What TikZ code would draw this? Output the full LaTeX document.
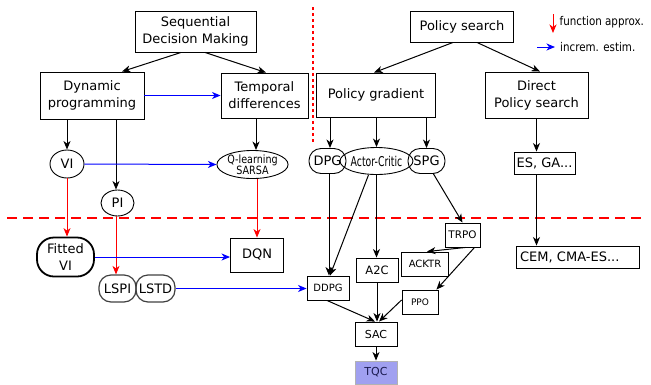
\documentclass[tikz,border=0pt]{standalone}
\usepackage{fontspec}
\usepackage{graphicx}
\setmainfont{DejaVu Sans}
\usetikzlibrary{arrows.meta,shapes.geometric}
\definecolor{tqcfill}{HTML}{A0A0F0}
\definecolor{tqctext}{HTML}{1A1A50}
\begin{document}
\begin{tikzpicture}[x=1pt,y=-1pt,
  big/.style={font=\fontsize{13}{17}\selectfont},
  small/.style={font=\fontsize{10}{12}\selectfont},
  box/.style={draw, line width=0.9pt, inner sep=0pt, align=center},
  ell/.style={ellipse, draw, line width=0.9pt, inner sep=0pt, align=center},
  capsule/.style={draw, line width=0.9pt, inner sep=0pt, align=center, rounded corners=12pt},
  arr/.style={-{Stealth[length=8.5pt,width=7pt,inset=2.5pt]}, line width=1pt},
  farr/.style={arr, red},
  iarr/.style={arr, blue},
  legtext/.style={anchor=west, inner sep=0pt, font=\fontsize{12}{13}\selectfont},
]
\useasboundingbox (0,0) rectangle (651,384);

% separators
\coordinate (h1) at (7,218);
\coordinate (h2) at (641,218);
\coordinate (v1) at (313,7);
\coordinate (v2) at (313,143);
\draw[red, line width=2.6pt, dash pattern=on 10pt off 6pt] (h1) -- (h2);
\draw[red, line width=1.2pt, dash pattern=on 3pt off 3pt] (v1) -- (v2);

% left part
\node[box,big,minimum width=121pt,minimum height=41pt] (sdm) at (195.5,31.5) {Sequential\\Decision Making};
\node[box,big,minimum width=104pt,minimum height=47pt] (dp) at (92,95.5) {Dynamic\\programming};
\node[box,big,minimum width=87pt,minimum height=45pt] (td) at (264.5,95.5) {Temporal\\differences};
\node[ell,big,minimum width=34pt,minimum height=28pt] (vi) at (67,164) {VI};
\node[ell,minimum width=61pt,minimum height=26pt,font=\fontsize{11.4}{11}\selectfont] (ql) at (252.5,164.5) {\scalebox{0.84}[1]{Q-learning}\\\scalebox{0.84}[1]{SARSA}};
\node[ell,big,minimum width=33pt,minimum height=26pt] (pi) at (117.5,203) {PI};
\node[capsule,big,line width=1.8pt,rounded corners=17pt,minimum width=57pt,minimum height=39pt] (fvi) at (65.5,257) {Fitted\\VI};
\node[box,big,minimum width=53pt,minimum height=34pt] (dqn) at (257,255) {DQN};
\node[capsule,big,draw=black!75,line width=1.2pt,minimum width=37pt,minimum height=27pt] (lspi) at (117.5,288.5) {LSPI};
\node[capsule,big,draw=black!75,line width=1.2pt,minimum width=39pt,minimum height=27pt] (lstd) at (155.5,288.5) {LSTD};

% right part
\node[box,big,minimum width=103pt,minimum height=31pt] (ps) at (462,26.5) {Policy search};
\node[box,big,minimum width=119pt,minimum height=44pt] (pg) at (376,95) {Policy gradient};
\node[box,big,minimum width=103pt,minimum height=46pt] (dps) at (536.5,95) {Direct\\Policy search};
\node[capsule,big,minimum width=37pt,minimum height=25pt] (dpg) at (327.5,161) {DPG};
\node[ell,minimum width=55pt,minimum height=27pt,font=\fontsize{13.5}{14}\selectfont] (ac) at (376.5,161) {\scalebox{0.69}[1]{Actor-Critic}};
\node[capsule,big,minimum width=37pt,minimum height=25pt] (spg) at (426.5,161) {SPG};
\node[box,big,minimum width=61pt,minimum height=22pt] (es) at (544.5,163) {ES, GA...};
\node[box,small,minimum width=42pt,minimum height=24pt] (ddpg) at (328,288) {DDPG};
\node[box,font=\fontsize{10.4}{12}\selectfont,minimum width=35pt,minimum height=24pt] (trpo) at (462.5,235) {TRPO};
\node[box,small,minimum width=47pt,minimum height=24pt] (acktr) at (425,264) {ACKTR};
\node[box,font=\fontsize{11.5}{12}\selectfont,minimum width=42pt,minimum height=24pt] (a2c) at (377,270) {A2C};
\node[box,font=\fontsize{9}{11}\selectfont,minimum width=36pt,minimum height=24pt] (ppo) at (420,302) {PPO};
\node[box,font=\fontsize{11}{12}\selectfont,minimum width=42pt,minimum height=24pt] (sac) at (376,334) {SAC};
\node[draw=black!30,fill=tqcfill,text=tqctext,line width=0.9pt,inner sep=0pt,font=\fontsize{11}{12}\selectfont,minimum width=42pt,minimum height=23pt] (tqc) at (376,372.5) {TQC};
\node[box,big,minimum width=123pt,minimum height=22pt,text width=115pt,align=left] (cem) at (577.5,257) {CEM, CMA-ES...};

% legend
\coordinate (l1a) at (553,14);
\coordinate (l1b) at (553,33);
\coordinate (l2a) at (537,47);
\coordinate (l2b) at (555,47);
\draw[farr] (l1a) -- (l1b);
\draw[iarr] (l2a) -- (l2b);
\node[legtext] (lt1) at (559.5,22) {\scalebox{0.86}[1]{function approx.}};
\node[legtext] (lt2) at (560,47) {\scalebox{0.86}[1]{increm. estim.}};

% black edges
\draw[arr] ([xshift=-14.5pt]sdm.south) -- ([xshift=30pt]dp.north);
\draw[arr] ([xshift=9.5pt]sdm.south) -- ([xshift=1.5pt]td.north);
\draw[arr] (dp.south -| vi.north) -- (vi.north);
\draw[arr] ([xshift=-1.5pt]dp.south -| pi.north) -- ([xshift=-1.5pt]pi.north);
\draw[arr] ([xshift=-8.5pt]td.south) -- ([xshift=3.5pt]ql.north);
\draw[arr] ([xshift=-9pt]ps.south) -- ([xshift=-2pt]pg.north);
\draw[arr] ([xshift=15pt]ps.south) -- ([xshift=3.5pt]dps.north);
\draw[arr] ([xshift=2.5pt]dpg.north |- pg.south) -- ([xshift=2.5pt]dpg.north);
\draw[arr] (ac.north |- pg.south) -- (ac.north);
\draw[arr] (spg.north |- pg.south) -- (spg.north);
\draw[arr] (dps.south) -- (dps.south |- es.north);
\draw[arr] (dps.south |- es.south) -- (dps.south |- cem.north);
\draw[arr] ([xshift=1.5pt]dpg.south) -- ([xshift=1.5pt]dpg.south |- ddpg.north);
\draw[arr] ([xshift=-8pt]ac.south) -- ([xshift=2pt]ddpg.north);
\draw[arr] (ac.south) -- (ac.south |- a2c.north);
\draw[arr] ([xshift=7pt]spg.south) -- (trpo.north);
\draw[arr] ([xshift=3pt]trpo.south) -- ([xshift=2pt]acktr.north);
\draw[arr] ([xshift=12pt]trpo.south) -- ([xshift=-2pt]ppo.north east);
\draw[arr] ([xshift=-1pt]ddpg.south) -- ([xshift=-1pt]sac.north);
\draw[arr] (a2c.south) -- (a2c.south |- sac.north);
\draw[arr] ([yshift=2pt]ppo.west) -- ([xshift=3pt]sac.north);
\draw[arr] (sac.south) -- (tqc.north);

% function approximation (red)
\draw[farr] (vi.south) -- (vi.south |- fvi.north);
\draw[farr] ([xshift=-1.5pt]pi.south) -- ([xshift=-1.5pt]pi.south |- lspi.north);
\draw[farr] (dqn.north |- ql.south) -- (dqn.north);

% incremental estimation (blue)
\draw[iarr] (dp.east) -- (td.west);
\draw[iarr] (vi.east) -- (ql.west);
\draw[iarr] (fvi.east) -- (fvi.east -| dqn.west);
\draw[iarr] (lstd.east) -- (lstd.east -| ddpg.west);
\end{tikzpicture}
\end{document}
